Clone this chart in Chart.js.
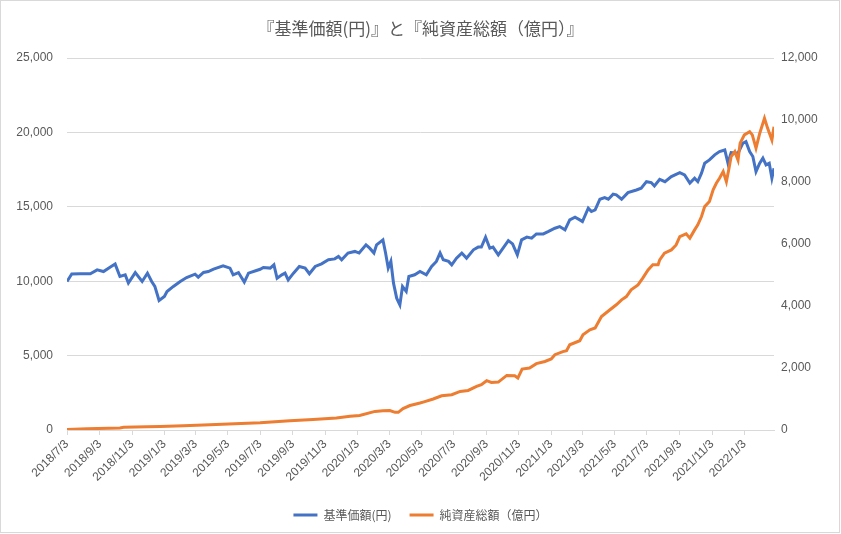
<!DOCTYPE html>
<html><head><meta charset="utf-8">
<script src="https://cdn.jsdelivr.net/npm/chart.js@4.4.1/dist/chart.umd.min.js"></script>
<style>html,body{margin:0;padding:0;background:#fff;}canvas{display:block;}</style>
</head><body>
<canvas id="c" width="841" height="534"></canvas>
<script>
const TITLE = '『基準価額(円)』と『純資産総額（億円）』';
const NAV_NAME = '基準価額(円)';
const AUM_NAME = '純資産総額（億円）';

const tickLabels = ['2018/7/3','2018/9/3','2018/11/3','2019/1/3','2019/3/3','2019/5/3','2019/7/3','2019/9/3','2019/11/3','2020/1/3','2020/3/3','2020/5/3','2020/7/3','2020/9/3','2020/11/3','2021/1/3','2021/3/3','2021/5/3','2021/7/3','2021/9/3','2021/11/3','2022/1/3'];

const navDates = ['2018-07-03','2018-07-12','2018-07-28','2018-08-16','2018-08-29','2018-09-10','2018-09-23','2018-10-02','2018-10-11','2018-10-21','2018-10-27','2018-11-09','2018-11-22','2018-12-02','2018-12-10','2018-12-16','2018-12-24','2019-01-03','2019-01-08','2019-01-20','2019-02-02','2019-02-14','2019-03-02','2019-03-08','2019-03-18','2019-03-27','2019-04-06','2019-04-24','2019-05-07','2019-05-13','2019-05-23','2019-06-03','2019-06-11','2019-06-26','2019-07-03','2019-07-09','2019-07-22','2019-07-29','2019-08-04','2019-08-13','2019-08-19','2019-08-25','2019-09-04','2019-09-15','2019-09-26','2019-10-04','2019-10-15','2019-10-27','2019-11-09','2019-11-21','2019-11-28','2019-12-04','2019-12-16','2019-12-29','2020-01-06','2020-01-19','2020-01-26','2020-02-03','2020-02-08','2020-02-20','2020-02-25','2020-03-01','2020-03-06','2020-03-11','2020-03-17','2020-03-23','2020-03-28','2020-04-04','2020-04-09','2020-04-20','2020-04-30','2020-05-12','2020-05-22','2020-05-31','2020-06-07','2020-06-13','2020-06-23','2020-06-29','2020-07-08','2020-07-18','2020-07-27','2020-08-09','2020-08-18','2020-08-24','2020-09-01','2020-09-09','2020-09-15','2020-09-25','2020-10-04','2020-10-14','2020-10-22','2020-10-31','2020-11-08','2020-11-18','2020-11-27','2020-12-06','2020-12-19','2020-12-28','2021-01-10','2021-01-19','2021-01-29','2021-02-07','2021-02-17','2021-02-26','2021-03-03','2021-03-14','2021-03-20','2021-03-27','2021-04-05','2021-04-14','2021-04-21','2021-04-30','2021-05-06','2021-05-16','2021-05-28','2021-06-13','2021-06-22','2021-07-02','2021-07-11','2021-07-17','2021-07-27','2021-08-06','2021-08-18','2021-09-03','2021-09-12','2021-09-22','2021-10-01','2021-10-07','2021-10-14','2021-10-20','2021-10-29','2021-11-08','2021-11-17','2021-11-27','2021-12-03','2021-12-09','2021-12-22','2021-12-31','2022-01-06','2022-01-13','2022-01-19','2022-01-25','2022-02-01','2022-02-07','2022-02-13','2022-02-19','2022-02-24','2022-02-28'];
const navValues = [9980,10480,10500,10500,10760,10650,10950,11150,10320,10430,9880,10580,9980,10540,9980,9650,8700,8970,9310,9650,9980,10250,10470,10270,10590,10650,10810,11030,10880,10430,10580,9940,10540,10720,10800,10920,10880,11100,10200,10430,10540,10090,10540,10990,10880,10500,10990,11170,11440,11500,11660,11440,11890,12000,11890,12440,12220,11890,12440,12780,11890,10880,11330,9870,8860,8410,9640,9310,10320,10430,10650,10430,10990,11330,11900,11440,11330,11100,11550,11890,11550,12110,12290,12290,12960,12220,12290,11770,12220,12730,12510,11770,12780,12960,12890,13180,13180,13330,13560,13670,13450,14120,14300,14120,14010,14910,14680,14790,15510,15620,15510,15850,15800,15510,15950,16130,16250,16690,16630,16400,16850,16690,17030,17300,17140,16590,16920,16690,17260,17930,18150,18490,18710,18820,17930,18640,18600,19270,19380,18710,18380,17370,17930,18270,17820,17930,16920,17590];

const aumDates = ['2018-07-03','2018-08-10','2018-10-11','2018-10-18','2018-12-01','2018-12-26','2019-02-08','2019-03-30','2019-05-16','2019-07-03','2019-08-28','2019-10-11','2019-11-24','2019-12-20','2020-01-07','2020-02-05','2020-02-20','2020-03-04','2020-03-14','2020-03-20','2020-03-29','2020-04-11','2020-04-17','2020-04-30','2020-05-06','2020-05-25','2020-06-10','2020-06-29','2020-07-15','2020-07-30','2020-08-15','2020-08-24','2020-09-03','2020-09-12','2020-09-25','2020-10-11','2020-10-26','2020-11-01','2020-11-09','2020-11-23','2020-12-06','2020-12-22','2021-01-03','2021-01-10','2021-01-25','2021-02-01','2021-02-07','2021-02-26','2021-03-04','2021-03-17','2021-03-27','2021-04-08','2021-04-24','2021-05-06','2021-05-16','2021-05-25','2021-06-03','2021-06-16','2021-06-25','2021-07-05','2021-07-14','2021-07-24','2021-07-27','2021-08-05','2021-08-18','2021-08-27','2021-09-03','2021-09-15','2021-09-22','2021-10-01','2021-10-07','2021-10-14','2021-10-20','2021-10-29','2021-11-05','2021-11-11','2021-11-17','2021-11-24','2021-11-30','2021-12-05','2021-12-09','2021-12-16','2021-12-22','2021-12-26','2022-01-03','2022-01-13','2022-01-18','2022-01-25','2022-02-01','2022-02-10','2022-02-16','2022-02-24','2022-02-28'];
const aumValues = [20,40,65,85,105,115,140,170,200,235,300,340,385,440,470,600,620,630,570,570,690,790,815,870,900,1000,1105,1140,1245,1275,1405,1460,1590,1535,1545,1760,1750,1675,1965,2000,2140,2210,2290,2430,2530,2555,2750,2880,3070,3230,3290,3660,3880,4040,4200,4305,4520,4680,4900,5165,5330,5330,5490,5705,5810,5970,6240,6330,6190,6455,6620,6885,7205,7370,7745,7960,8120,8335,8010,8445,8820,8980,8710,9250,9520,9625,9520,9090,9570,10055,9730,9355,9785];

const leftAxis = {min: 0, max: 25000, step: 5000};
const rightAxis = {min: 0, max: 12000, step: 2000};

function dayNum(s) {
  const p = s.split(/[-\/]/).map(Number);
  return Math.round(Date.UTC(p[0], p[1] - 1, p[2]) / 86400000);
}
const origin = dayNum(tickLabels[0]);
const tickDays = tickLabels.map(l => dayNum(l) - origin);
const tickMap = {};
tickLabels.forEach((l, i) => { tickMap[tickDays[i]] = l; });
const lastDay = dayNum(navDates[navDates.length - 1]) - origin;

const navPoints = navDates.map((d, i) => ({x: dayNum(d) - origin, y: navValues[i]}));
const aumPoints = aumDates.map((d, i) => ({x: dayNum(d) - origin, y: aumValues[i]}));

const fmt = v => Number(v).toLocaleString('en-US');
const GREY = '#595959';
const GRID = '#d9d9d9';
const NUMFONT = "'Liberation Sans', Arial, sans-serif";
const JPFONT = "'Noto Sans CJK JP', sans-serif";
const W = 841, H = 534;
const PLOT = {left: 67, right: 774, top: 58, bottom: 430};
const BOTTOM_PAD = 3;

const bgPlugin = {
  id: 'bg',
  beforeDraw(chart) {
    const c = chart.ctx;
    c.save();
    c.fillStyle = '#fff';
    c.fillRect(0, 0, chart.width, chart.height);
    c.strokeStyle = GRID;
    c.lineWidth = 1;
    c.strokeRect(0.5, 0.5, chart.width - 2, chart.height - 2);
    c.restore();
  }
};

new Chart(document.getElementById('c'), {
  type: 'line',
  data: {
    datasets: [
      {label: AUM_NAME, data: aumPoints, yAxisID: 'y2', borderColor: '#ED7D31', backgroundColor: '#ED7D31', borderWidth: 3, pointRadius: 0, tension: 0},
      {label: NAV_NAME, data: navPoints, yAxisID: 'y', borderColor: '#4472C4', backgroundColor: '#4472C4', borderWidth: 3, pointRadius: 0, tension: 0}
    ]
  },
  options: {
    responsive: false,
    animation: false,
    devicePixelRatio: 1,
    layout: {padding: {top: 0, left: 0, right: 0, bottom: BOTTOM_PAD}},
    plugins: {
      title: {
        display: true, text: TITLE, color: GREY,
        font: {family: JPFONT, size: 17, weight: 'normal', lineHeight: 1.2},
        padding: {top: 18, bottom: PLOT.top - 18 - 17 * 1.2}
      },
      legend: {
        position: 'bottom',
        labels: {
          usePointStyle: true, pointStyle: 'line', pointStyleWidth: 24,
          color: GREY, font: {family: JPFONT, size: 12}, padding: 18,
          sort: (a, b) => b.datasetIndex - a.datasetIndex
        }
      },
      tooltip: {enabled: false}
    },
    scales: {
      x: {
        type: 'linear', min: 0, max: lastDay,
        afterBuildTicks(s) { s.ticks = tickDays.map(v => ({value: v})); },
        afterFit(s) { s.height = H - PLOT.bottom - s.chart.legend.height - BOTTOM_PAD; },
        ticks: {
          autoSkip: false, minRotation: 45, maxRotation: 45, padding: 2,
          color: GREY, font: {family: NUMFONT, size: 12},
          callback: v => tickMap[v] || ''
        },
        grid: {drawOnChartArea: false, drawTicks: true, tickLength: 5, color: GRID},
        border: {display: true, color: GRID, width: 1}
      },
      y: {
        position: 'left', min: leftAxis.min, max: leftAxis.max,
        afterFit(s) { s.width = PLOT.left; },
        afterBuildTicks(s) { const t = []; for (let v = leftAxis.min; v <= leftAxis.max; v += leftAxis.step) t.push({value: v}); s.ticks = t; },
        ticks: {color: GREY, font: {family: NUMFONT, size: 12}, padding: 14, callback: fmt},
        grid: {color: GRID, drawTicks: false, lineWidth: 1},
        border: {display: false}
      },
      y2: {
        position: 'right', min: rightAxis.min, max: rightAxis.max,
        afterFit(s) { s.width = W - PLOT.right; },
        afterBuildTicks(s) { const t = []; for (let v = rightAxis.min; v <= rightAxis.max; v += rightAxis.step) t.push({value: v}); s.ticks = t; },
        ticks: {color: GREY, font: {family: NUMFONT, size: 12}, padding: 7, callback: fmt},
        grid: {drawOnChartArea: false, drawTicks: false},
        border: {display: false}
      }
    }
  },
  plugins: [bgPlugin]
});
</script>
</body></html>
